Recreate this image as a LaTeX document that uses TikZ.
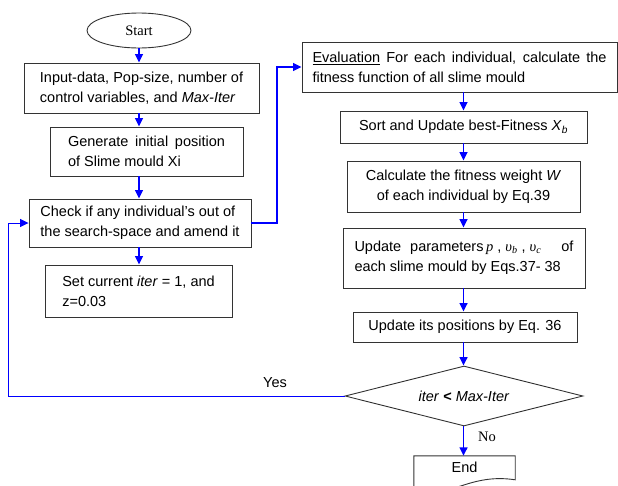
\documentclass[tikz,border=0pt]{standalone}
\usepackage{fontspec}
\setmainfont{Liberation Sans}
\newfontfamily\seriffont{Liberation Serif}
\usetikzlibrary{shapes.geometric,arrows.meta,calc}
\hyphenpenalty=10000
\exhyphenpenalty=10000
\begin{document}
\begin{tikzpicture}[x=1pt,y=-1pt,
  font=\fontsize{14.5}{20}\selectfont,
  box/.style={draw=black!80, line width=0.9pt, rectangle, inner sep=0pt, align=left},
  flow/.style={draw=blue, line width=1.5pt, -{Triangle[length=8.5pt,width=8pt]}},
  back/.style={draw=blue, line width=1pt, -{Triangle[length=8.5pt,width=8pt]}},
  lbl/.style={inner sep=0pt},
  ]
\useasboundingbox (0,0) rectangle (618,485);
% left column
\node[ellipse, draw=black!80, line width=0.9pt, minimum width=104, minimum height=35, inner sep=0pt,
      font=\seriffont\fontsize{14.5}{16}\selectfont] (start) at (139,30.5) {Start};
\node[box, minimum width=235, minimum height=50] (in1) at (141.5,88)
  {Input-data, Pop-size, number of\\control variables, and \textit{Max-Iter}};
\node[box, minimum width=193, minimum height=49] (gen) at (146.5,151.5)
  {\makebox[157pt][s]{Generate initial position}\\of Slime mould Xi};
\node[box, minimum width=222, minimum height=48] (chk) at (140,223)
  {Check if any individual's out of\\the search-space and amend it};
\node[box, minimum width=187, minimum height=52] (set) at (138.5,291)
  {Set current \textit{iter} = 1, and\\z=0.03};
% right column
\node[box, minimum width=315, minimum height=50] (eval) at (459.5,67)
  {\makebox[294pt][s]{\underline{Evaluation} For each individual, calculate the}\\fitness function of all slime mould};
\node[box, align=center, minimum width=247, minimum height=32] (sort) at (463.5,127)
  {Sort and Update best-Fitness \textit{X}\textsubscript{\textit{b}}};
\node[box, align=center, minimum width=233, minimum height=51] (calc) at (463.5,186.5)
  {Calculate the fitness weight \textit{W}\\of each individual by Eq.39};
\node[box, minimum width=242, minimum height=60] (upd) at (464,258)
  {\makebox[219pt][l]{Update\hspace{9pt}parameters\,{\seriffont\itshape p} , {\seriffont\itshape υ\textsubscript{b}} , {\seriffont\itshape υ\textsubscript{c}}\hfill of}\\each slime mould by Eqs.37- 38};
\node[box, align=center, minimum width=224, minimum height=30] (pos) at (465,327)
  {Update its positions by Eq. 36};
\node[diamond, aspect=4, draw=black!80, line width=0.9pt, minimum width=238, minimum height=60, inner sep=0pt]
  (dec) at (464,396) {\textit{iter} \textbf{<} \textit{Max-Iter}};
\node[minimum width=101, minimum height=22, inner sep=0pt] (end) at (464.5,467) {End};
\draw[draw=black!80, line width=0.9pt]
  ($(end.north west)+(0,40)$) -- (end.north west) -- (end.north east) -- ($(end.north east)+(0,24)$)
  .. controls ($(end.north east)+(-20,21)$) and ($(end.north east)+(-35,24)$) .. ($(end.north)+(0,29)$)
  .. controls ($(end.north)+(-15,34)$) and ($(end.north west)+(20,37)$) .. ($(end.north west)+(0,33)$);
% helper coordinates
\coordinate (rb) at (277,0);
\coordinate (rx) at (463.5,0);
\coordinate (lb) at (8,0);
% connectors left
\draw[flow] (start.south) -- (in1.north -| start.south);
\draw[flow] (in1.south -| start.south) -- (gen.north -| start.south);
\draw[flow] (gen.south -| start.south) -- (chk.north -| start.south);
\draw[flow] (chk.south -| start.south) -- (set.north -| start.south);
\draw[flow] (chk.east) -- (chk.east -| rb) |- (eval.west);
% connectors right
\draw[flow] (eval.south -| rx) -- (sort.north -| rx);
\draw[flow] (sort.south -| rx) -- (calc.north -| rx);
\draw[flow] (calc.south -| rx) -- (upd.north -| rx);
\draw[flow] (upd.south -| rx) -- (pos.north -| rx);
\draw[flow] (pos.south -| rx) -- (dec.north -| rx);
\draw[flow] (dec.south -| rx) -- (end.north -| rx);
\draw[back] (dec.west) -- (dec.west -| lb) |- (chk.west);
% labels
\node[lbl] (yes) at (275,383) {Yes};
\node[lbl, font=\seriffont\fontsize{14.5}{16}\selectfont] (no) at (487,437) {No};
\end{tikzpicture}
\end{document}
